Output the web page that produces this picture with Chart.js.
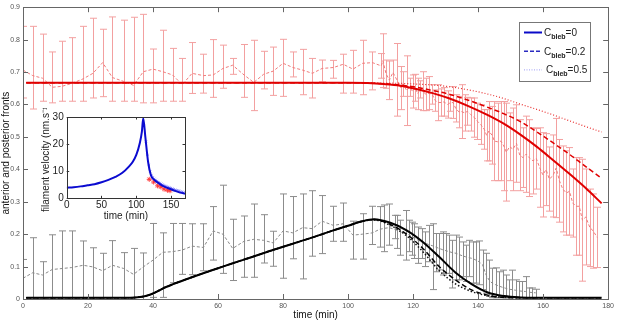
<!DOCTYPE html>
<html>
<head>
<meta charset="utf-8">
<title>anterior and posterior fronts</title>
<script src="https://cdn.jsdelivr.net/npm/chart.js@4.4.1/dist/chart.umd.min.js"></script>
<style>
  html, body { margin: 0; padding: 0; background: #fff; }
  #wrap { position: relative; width: 617px; height: 321px; }
  #main { position: absolute; left: 0; top: 0; }
  #inset { position: absolute; left: 40px; top: 108px; }
</style>
</head>
<body>
<div id="wrap">
  <canvas id="main" width="617" height="321"></canvas>
  <canvas id="inset" width="150" height="114"></canvas>
</div>
<script>
Chart.defaults.font.family = "'Liberation Sans', Arial, sans-serif";
Chart.defaults.animation = false;

// main axes
const xTicks = [0, 20, 40, 60, 80, 100, 120, 140, 160, 180];
const yTicks = [0, 0.1, 0.2, 0.3, 0.4, 0.5, 0.6, 0.7, 0.8, 0.9];

// anterior front, measured (mean + spread)
const redT = [0, 3, 6, 9, 12, 15, 18.5, 21.5, 24.5, 27.5, 31, 34, 37, 40, 43, 46, 49, 52, 55.5, 58.5,
  61.5, 64.5, 68, 71, 74, 77, 80, 83, 86, 89, 92, 95.5, 98.5, 101.5, 104.5, 107.5,
  110.2, 110.7, 111.7, 112.7, 113.8, 115, 116.3, 117, 118, 118.9, 119.9, 120.7, 121.4, 122.2,
  123.1, 123.9, 124.9, 125.9, 126.8, 127.8, 128.7, 129.5, 130.6, 131.4, 132.3, 133.1, 134.1, 134.9,
  135.9, 136.7, 137.7, 138.8, 139.8, 140.8, 141.9, 142.6,
  143.3, 144.3, 145, 146, 147, 147.9, 148.7, 149.7, 150.7, 151.8, 152.8, 153.8, 154.8, 155.8,
  156.9, 157.9, 158.9, 159.9, 160.9, 161.9, 163, 164, 165, 166, 167.1, 168.1, 169.1, 170.1,
  171.1, 172.1, 173.1, 174.4, 175.4, 176.6];
const redMean = [.706, .689, .681, .653, .656, .665, .679, .696, .729, .683, .671, .659, .701, .709, .701, .691, .661, .696, .689, .691,
  .711, .721, .691, .668, .693, .703, .727, .714, .706, .696, .711, .714, .724, .709, .727, .729,
  .719, .735, .694, .675, .699, .676, .651, .663, .643, .653, .640, .652, .633, .647,
  .641, .631, .635, .631, .612, .606, .606, .608, .600, .605, .606, .588, .577, .578,
  .574, .579, .569, .560, .548, .538, .523, .505,
  .518, .505, .487, .485, .487, .472, .453, .470, .462, .480, .444, .436, .447, .435,
  .426, .433, .406, .383, .399, .370, .380, .404, .365, .340, .327, .332, .296, .286,
  .286, .243, .253, .220, .210, .190];
const redHi = [.841, .841, .817, .762, .795, .806, .841, .866, .832, .870, .860, .869, .878, .771, .829, .773, .742, .791, .755, .800,
  .783, .742, .785, .798, .764, .777, .801, .762, .770, .742, .737, .736, .755, .767, .798, .762,
  .757, .818, .737, .734, .737, .788, .717, .701, .750, .681, .691, .693, .681, .673,
  .701, .681, .686, .661, .645, .661, .648, .652, .642, .630, .655, .630, .625, .661,
  .630, .622, .620, .620, .604, .599, .584, .584,
  .609, .594, .609, .604, .609, .609, .604, .574, .589, .599, .553, .528, .564, .553,
  .528, .526, .528, .513, .510, .469, .506, .557, .492, .472, .457, .467, .401, .436,
  .436, .431, .401, .339, .324, .283];
const redLo = [.620, .586, .610, .605, .610, .610, .610, .620, .624, .610, .610, .610, .605, .605, .610, .610, .610, .634, .635, .622,
  .650, .693, .622, .581, .648, .628, .625, .685, .630, .620, .670, .681, .635, .635, .630, .645,
  .681, .652, .650, .615, .661, .564, .584, .625, .535, .625, .589, .610, .584, .620,
  .581, .581, .584, .601, .579, .550, .564, .564, .558, .579, .557, .546, .528, .495,
  .518, .536, .518, .499, .492, .477, .462, .426,
  .426, .416, .365, .365, .365, .334, .302, .365, .334, .360, .334, .344, .329, .316,
  .324, .339, .283, .253, .288, .271, .253, .251, .237, .207, .197, .197, .191, .135,
  .135, .055, .105, .100, .095, .097];

// posterior front, measured (mean + spread)
const greyT = [0, 3, 6, 9, 12, 15, 18.5, 21.5, 24.5, 27.5, 31, 34, 37, 40, 43, 46, 49, 52, 55.5, 58.5,
  61.5, 64.5, 68, 71, 74, 77, 80, 83, 86, 89, 92, 95.5, 98.5, 101.5, 104.5, 107.5,
  109.7, 111.2, 112.7, 114.3, 115, 116, 117.9, 118.7, 119.7, 120.4, 121.4, 122.7, 123.8, 124.8,
  126, 127, 128, 129.1, 130.1, 131.1, 132.1, 133.2, 134.2, 135.2, 136.2, 137.3, 138.3, 139.3,
  140.3, 141.4, 142.4, 143.4, 144.4, 145.4, 146.4, 147.5, 148.5, 149.5, 150.5, 151.5, 152.6,
  153.6, 154.6, 155.6, 156.6, 157.7];
const greyMean = [.064, .081, .074, .091, .094, .097, .104, .099, .087, .104, .094, .076, .099, .120, .144, .146, .151, .163, .159, .210,
  .200, .156, .178, .184, .181, .173, .210, .204, .220, .217, .240, .227, .232, .197, .200, .204,
  .215, .218, .220, .215, .212, .207, .202, .198, .192, .188, .182, .176, .172, .168,
  .164, .160, .156, .152, .149, .146, .143, .141, .137, .133, .130, .127, .125, .120,
  .115, .105, .075, .058, .048, .044, .040, .036, .033, .030, .029, .027, .025,
  .024, .023, .021, .020, .019];
const greyHi = [.122, .189, .115, .198, .210, .210, .179, .158, .141, .180, .143, .156, .142, .233, .204, .233, .233, .232, .232, .285,
  .351, .246, .256, .293, .260, .209, .324, .316, .324, .334, .319, .286, .296, .240, .263, .286,
  .285, .290, .293, .258, .258, .243, .273, .243, .237, .232, .222, .217, .207, .227,
  .232, .202, .202, .207, .202, .197, .181, .197, .191, .176, .166, .181, .176, .176,
  .179, .151, .141, .120, .095, .096, .084, .089, .074, .059, .089, .059, .054,
  .054, .069, .034, .034, .030];
const greyLo = [-.02, -.02, -.02, -.02, -.02, -.02, -.02, -.02, -.02, -.02, -.02, -.02, -.02, .005, .005, .050, .076, .075, .087, .120,
  .079, .057, .067, .067, .111, .101, .064, .124, .062, .132, .140, .178, .178, .123, .123, .168,
  .160, .146, .166, .186, .156, .135, .120, .146, .135, .125, .110, .125, .100, .115,
  .029, .084, .090, .074, .079, .079, .034, .059, .059, .069, .054, .069, .049, .049,
  .044, .029, .018, .008, .004, .004, .004, .004, .004, .004, .004, .004, .004,
  .004, .004, .004, .004, .004];

// model, anterior front for Cbleb = 0 / 0.2 / 0.5
const modelRedT = [1, 100, 106, 111, 116, 121, 126, 131, 137, 143, 148, 153, 158, 163, 168, 173, 178];
const redC0 = [.667, .667, .666, .663, .658, .648, .635, .619, .595, .567, .540, .507, .470, .429, .387, .343, .295];
const redC02 = [.667, .667, .666, .664, .660, .653, .643, .632, .613, .591, .571, .547, .516, .482, .447, .409, .372];
const redC05 = [.667, .667, .667, .666, .665, .663, .660, .655, .645, .632, .618, .601, .585, .568, .550, .532, .515];

// model, posterior front
const modelBlackT = [1, 33, 36, 38, 40, 42, 44, 46, 50, 55, 60, 65, 70, 75, 80, 85, 90, 95, 100, 104,
  108, 113, 118, 123, 128, 133, 138, 143, 148, 153, 158, 178];
const blackC0 = [.004, .004, .006, .010, .017, .027, .037, .045, .060, .078, .095, .112, .128, .145, .161, .177, .193, .210, .226, .239,
  .246, .235, .212, .176, .130, .082, .046, .020, .009, .005, .004, .004];
const blackC02 = [.004, .004, .006, .010, .017, .027, .037, .045, .060, .078, .095, .112, .128, .145, .161, .177, .193, .210, .226, .239,
  .245, .230, .200, .156, .100, .059, .028, .012, .005, .004, .004, .004];
const blackC05 = [.004, .004, .006, .010, .017, .027, .037, .045, .060, .078, .095, .112, .128, .145, .161, .177, .193, .210, .226, .239,
  .244, .227, .195, .146, .088, .047, .023, .010, .005, .004, .004, .004];

const legendLabels = ['0', '0.2', '0.5'];

// inset: filament velocity
const insetXTicks = [0, 50, 100, 150];
const insetYTicks = [0, 10, 20, 30];
const velT = [0, 10, 20, 30, 40, 50, 60, 70, 80, 89, 95, 100, 105, 108, 110, 113, 117, 121, 125, 131, 138, 145, 155, 163, 170];
const velV = [3.9, 4.1, 4.4, 4.8, 5.2, 5.9, 6.8, 7.9, 9.4, 11.6, 13.5, 16, 20.3, 24.5, 29.5, 22.7, 13.4, 8.5, 7, 5.8, 4.6, 3.8, 2.8, 2.1, 1.7];
const velDotT = [114, 116, 118, 120, 122, 124, 126, 128, 130, 132, 134, 136, 138, 140, 142, 144, 146, 148, 150, 152, 154, 156, 158, 160, 162, 164, 166, 168];
const velDotV = [21, 16, 12.3, 10, 8.6, 7.8, 7.2, 6.8, 6.4, 6.0, 5.7, 5.4, 5.1, 4.8, 4.6, 4.4, 4.2, 4.0, 3.8, 3.6, 3.4, 3.2, 3.0, 2.9, 2.7, 2.5, 2.4, 2.2];
const velRedT = [118.6, 125, 130.7, 135.3, 140, 144.7, 148.5];
const velRedV = [7.0, 6.0, 4.6, 4.2, 3.4, 3.0, 2.8];
const velRedHi = [7.6, 7.4, 6.2, 5.6, 5.0, 4.4, 4.2];
const velRedLo = [6.4, 4.6, 3.0, 2.8, 2.0, 1.6, 1.6];

function pts(xs, ys) {
  return xs.map((x, i) => ({ x: x, y: ys[i] }));
}

// vertical error bars with caps, drawn under the lines
const errorBars = {
  id: 'errorBars',
  beforeDatasetsDraw(chart) {
    const { ctx, chartArea: a, scales: { x, y } } = chart;
    ctx.save();
    ctx.beginPath();
    ctx.rect(a.left, a.top, a.right - a.left, a.bottom - a.top);
    ctx.clip();
    chart.data.datasets.forEach(ds => {
      if (!ds.errHi) return;
      ctx.strokeStyle = ds.errColor;
      ctx.lineWidth = 1;
      const cap = ds.errCap;
      ds.data.forEach((p, i) => {
        const px = Math.round(x.getPixelForValue(p.x)) + 0.5;
        const top = y.getPixelForValue(ds.errHi[i]);
        const bot = y.getPixelForValue(ds.errLo[i]);
        ctx.beginPath();
        ctx.moveTo(px, top); ctx.lineTo(px, bot);
        ctx.moveTo(px - cap, top); ctx.lineTo(px + cap, top);
        ctx.moveTo(px - cap, bot); ctx.lineTo(px + cap, bot);
        ctx.stroke();
      });
    });
    ctx.restore();
  }
};

// matlab style box with inward ticks on all four sides
const axesBox = {
  id: 'axesBox',
  beforeDatasetsDraw(chart, args, opts) {
    if (!opts.fill) return;
    const { ctx, chartArea: a } = chart;
    ctx.save();
    ctx.fillStyle = '#fff';
    ctx.fillRect(a.left, a.top, a.right - a.left, a.bottom - a.top);
    ctx.restore();
  },
  afterDraw(chart, args, opts) {
    const { ctx, chartArea: a, scales: { x, y } } = chart;
    const len = opts.tick;
    ctx.save();
    ctx.strokeStyle = opts.color;
    ctx.lineWidth = 1;
    ctx.strokeRect(Math.round(a.left) + 0.5, Math.round(a.top) + 0.5,
      Math.round(a.right - a.left), Math.round(a.bottom - a.top));
    ctx.beginPath();
    x.ticks.forEach(t => {
      const px = Math.round(x.getPixelForValue(t.value)) + 0.5;
      ctx.moveTo(px, a.bottom); ctx.lineTo(px, a.bottom - len);
      ctx.moveTo(px, a.top); ctx.lineTo(px, a.top + len);
    });
    y.ticks.forEach(t => {
      const py = Math.round(y.getPixelForValue(t.value)) + 0.5;
      ctx.moveTo(a.left, py); ctx.lineTo(a.left + len, py);
      ctx.moveTo(a.right, py); ctx.lineTo(a.right - len, py);
    });
    ctx.stroke();
    ctx.restore();
  }
};

// legend box with subscript text
const blebLegend = {
  id: 'blebLegend',
  afterDraw(chart) {
    const { ctx, chartArea: a } = chart;
    const bx = Math.round(a.right - 89), by = Math.round(a.top + 15), bw = 71, bh = 59;
    const styles = [
      { color: '#0a0ac8', width: 2, dash: [] },
      { color: '#2a2ac0', width: 1.5, dash: [4, 2] },
      { color: '#9c9cf4', width: 1, dash: [1, 1.5] }
    ];
    ctx.save();
    ctx.fillStyle = '#fff';
    ctx.fillRect(bx, by, bw, bh);
    ctx.strokeStyle = '#777';
    ctx.lineWidth = 1;
    ctx.strokeRect(bx + 0.5, by + 0.5, bw, bh);
    legendLabels.forEach((lab, i) => {
      const yy = by + 10.5 + i * 18.7;
      const st = styles[i];
      ctx.strokeStyle = st.color;
      ctx.lineWidth = st.width;
      ctx.setLineDash(st.dash);
      ctx.beginPath();
      ctx.moveTo(bx + 5, yy);
      ctx.lineTo(bx + 23, yy);
      ctx.stroke();
      ctx.setLineDash([]);
      ctx.fillStyle = '#222';
      let tx = bx + 25 + (i === 2 ? 2 : 0);
      ctx.font = "10px 'Liberation Sans', Arial, sans-serif";
      ctx.fillText('C', tx, yy + 3.5);
      tx += ctx.measureText('C').width;
      ctx.font = "bold 7px 'Liberation Sans', Arial, sans-serif";
      ctx.fillText('bleb', tx, yy + 6.5);
      tx += ctx.measureText('bleb').width;
      ctx.font = "10px 'Liberation Sans', Arial, sans-serif";
      ctx.fillText('=' + lab, tx, yy + 3.5);
    });
    ctx.restore();
  }
};

function modelLine(xs, ys, color, width, dash) {
  return {
    data: pts(xs, ys),
    borderColor: color,
    borderWidth: width,
    borderDash: dash,
    pointRadius: 0,
    cubicInterpolationMode: 'monotone'
  };
}

new Chart(document.getElementById('main'), {
  type: 'line',
  data: {
    datasets: [
      modelLine(modelRedT, redC0, '#e00000', 2, []),
      modelLine(modelRedT, redC02, '#e00000', 1.5, [5, 3]),
      modelLine(modelRedT, redC05, '#e83030', 1.2, [1, 2]),
      modelLine(modelBlackT, blackC0, '#000', 2, []),
      modelLine(modelBlackT, blackC02, '#000', 1.5, [5, 3]),
      modelLine(modelBlackT, blackC05, '#111', 1.5, [1.5, 2]),
      {
        data: pts(redT, redMean), borderColor: '#f07c7c', borderWidth: 1, borderDash: [3, 2],
        pointRadius: 0, errHi: redHi, errLo: redLo, errColor: '#f3a0a0', errCap: 3.5
      },
      {
        data: pts(greyT, greyMean), borderColor: '#8a8a8a', borderWidth: 1, borderDash: [3, 2],
        pointRadius: 0, errHi: greyHi, errLo: greyLo, errColor: '#8c8c8c', errCap: 3.5
      }
    ]
  },
  options: {
    responsive: false,
    animation: false,
    layout: { padding: { top: 4, right: 6, left: 0, bottom: 0 } },
    plugins: {
      legend: { display: false },
      tooltip: { enabled: false },
      axesBox: { color: '#666', tick: 5, fill: false }
    },
    scales: {
      x: {
        type: 'linear', min: 0, max: 180,
        afterBuildTicks: s => { s.ticks = xTicks.map(v => ({ value: v })); },
        ticks: { font: { size: 7 }, color: '#555', padding: 3, maxRotation: 0, autoSkip: false },
        grid: { display: false, drawTicks: false },
        border: { display: false },
        title: { display: true, text: 'time (min)', font: { size: 10 }, color: '#111', padding: 0 },
        afterFit: s => { s.height = 22; }
      },
      y: {
        min: 0, max: 0.9,
        afterBuildTicks: s => { s.ticks = yTicks.map(v => ({ value: v })); },
        ticks: { font: { size: 7 }, color: '#555', padding: 3, autoSkip: false, callback: v => String(Math.round(v * 10) / 10) },
        grid: { display: false, drawTicks: false },
        border: { display: false },
        title: { display: true, text: 'anterior and posterior fronts', font: { size: 10 }, color: '#111', padding: 0 },
        afterFit: s => { s.width = 23; }
      }
    }
  },
  plugins: [errorBars, axesBox, blebLegend]
});

new Chart(document.getElementById('inset'), {
  type: 'line',
  data: {
    datasets: [
      { data: pts(velT, velV), borderColor: '#0b0bd0', borderWidth: 2, pointRadius: 0, cubicInterpolationMode: 'monotone' },
      {
        data: pts(velRedT, velRedV), showLine: false, pointStyle: 'star', pointRadius: 2.5,
        borderColor: '#ff3a3a', borderWidth: 1, errHi: velRedHi, errLo: velRedLo, errColor: '#ff6060', errCap: 1.5
      },
      {
        data: pts(velDotT, velDotV), showLine: false, pointStyle: 'crossRot', pointRadius: 1.5,
        borderColor: 'rgba(110,110,255,0.7)', borderWidth: 1
      }
    ]
  },
  options: {
    responsive: false,
    animation: false,
    layout: { padding: { top: 4.3, right: 3.3, left: 0, bottom: 0 } },
    plugins: {
      legend: { display: false },
      tooltip: { enabled: false },
      axesBox: { color: '#333', tick: 2.5, fill: true }
    },
    scales: {
      x: {
        type: 'linear', min: 0, max: 170,
        afterBuildTicks: s => { s.ticks = insetXTicks.map(v => ({ value: v })); },
        ticks: { font: { size: 10 }, color: '#222', padding: 1, maxRotation: 0, autoSkip: false },
        grid: { display: false, drawTicks: false },
        border: { display: false },
        title: { display: true, text: 'time (min)', font: { size: 10 }, color: '#222', padding: 0 },
        afterFit: s => { s.height = 23.7; }
      },
      y: {
        min: 0, max: 30,
        afterBuildTicks: s => { s.ticks = insetYTicks.map(v => ({ value: v })); },
        ticks: { font: { size: 10 }, color: '#222', padding: 3, autoSkip: false },
        grid: { display: false, drawTicks: false },
        border: { display: false },
        title: { display: true, text: 'filament velocity (nm.s⁻¹)', font: { size: 10 }, color: '#222', padding: 0 },
        afterFit: s => { s.width = 26.7; }
      }
    }
  },
  plugins: [errorBars, axesBox]
});
</script>
</body>
</html>
